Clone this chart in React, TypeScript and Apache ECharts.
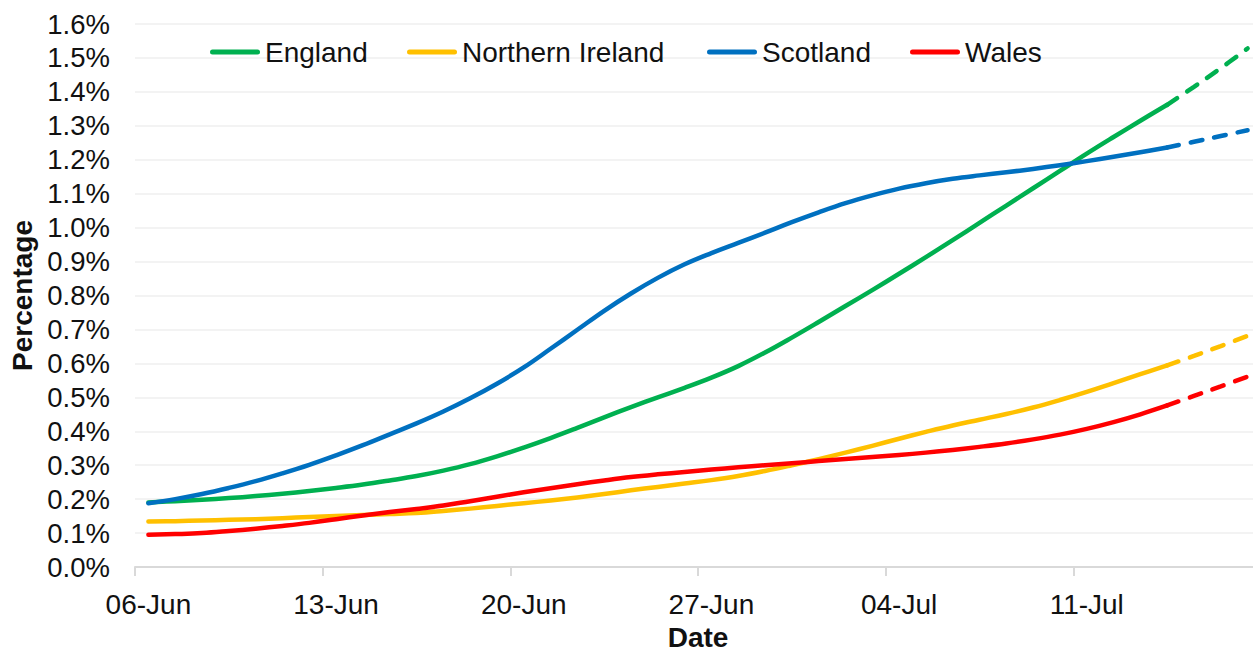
import { useEffect, useRef } from "react";
import * as echarts from "echarts";

const dates = [
  "06-Jun", "07-Jun", "08-Jun", "09-Jun", "10-Jun", "11-Jun", "12-Jun",
  "13-Jun", "14-Jun", "15-Jun", "16-Jun", "17-Jun", "18-Jun", "19-Jun",
  "20-Jun", "21-Jun", "22-Jun", "23-Jun", "24-Jun", "25-Jun", "26-Jun",
  "27-Jun", "28-Jun", "29-Jun", "30-Jun", "01-Jul", "02-Jul", "03-Jul",
  "04-Jul", "05-Jul", "06-Jul", "07-Jul", "08-Jul", "09-Jul", "10-Jul",
  "11-Jul", "12-Jul", "13-Jul", "14-Jul", "15-Jul", "16-Jul", "17-Jul",
];

const england = [
  0.190, 0.194, 0.198, 0.203, 0.209, 0.216, 0.224, 0.233, 0.243, 0.255,
  0.268, 0.284, 0.303, 0.326, 0.352, 0.380, 0.410, 0.441, 0.471, 0.500,
  0.528, 0.558, 0.592, 0.632, 0.676, 0.722, 0.769, 0.816, 0.864, 0.913,
  0.963, 1.014, 1.065, 1.116, 1.167, 1.218, 1.267, 1.315, 1.362, 1.415,
  1.470, 1.528,
];

const northernIreland = [
  0.134, 0.135, 0.137, 0.139, 0.141, 0.144, 0.147, 0.150, 0.153, 0.156,
  0.159, 0.165, 0.172, 0.180, 0.188, 0.196, 0.205, 0.215, 0.226, 0.236,
  0.246, 0.256, 0.268, 0.283, 0.300, 0.318, 0.337, 0.357, 0.378, 0.398,
  0.417, 0.434, 0.451, 0.470, 0.492, 0.516, 0.542, 0.568, 0.594, 0.622,
  0.651, 0.681,
];

const scotland = [
  0.188, 0.200, 0.215, 0.233, 0.253, 0.276, 0.301, 0.329, 0.359, 0.391,
  0.423, 0.458, 0.497, 0.540, 0.588, 0.643, 0.699, 0.755, 0.806, 0.852,
  0.892, 0.925, 0.955, 0.985, 1.016, 1.045, 1.072, 1.095, 1.115, 1.131,
  1.144, 1.154, 1.163, 1.173, 1.184, 1.196, 1.209, 1.222, 1.236, 1.253,
  1.270, 1.287,
];

const wales = [
  0.095, 0.097, 0.100, 0.106, 0.113, 0.121, 0.130, 0.141, 0.152, 0.162,
  0.171, 0.181, 0.194, 0.207, 0.220, 0.232, 0.244, 0.255, 0.265, 0.273,
  0.280, 0.287, 0.294, 0.300, 0.306, 0.312, 0.318, 0.324, 0.330, 0.337,
  0.345, 0.354, 0.364, 0.376, 0.390, 0.407, 0.427, 0.450, 0.476, 0.504,
  0.532, 0.561,
];

// index of the first projected (dashed) day; solid lines end here
const projectionStart = 38;

const countries = [
  { name: "England", values: england, color: "#00B050" },
  { name: "Northern Ireland", values: northernIreland, color: "#FFC000" },
  { name: "Scotland", values: scotland, color: "#0070C0" },
  { name: "Wales", values: wales, color: "#FF0000" },
];

// left edge of each legend entry's line icon
const legendLefts = [210, 407, 707, 910];

const FONT = "'Liberation Sans', Arial, sans-serif";
const LEGEND_ICON =
  "path://M2.5,0 L47.5,0 A2.5,2.5 0 0 1 47.5,5 L2.5,5 A2.5,2.5 0 0 1 2.5,0 Z";

export default function App() {
  const ref = useRef<HTMLDivElement>(null);

  useEffect(() => {
    if (!ref.current) return;
    const chart = echarts.init(ref.current, undefined, { renderer: "svg" });

    const series: any[] = [];
    countries.forEach((c) => {
      series.push({
        name: c.name,
        type: "line",
        data: c.values.map((v, i) => (i <= projectionStart ? v : null)),
        smooth: 0.4,
        symbol: "none",
        lineStyle: { color: c.color, width: 4.5, cap: "round", join: "round" },
        itemStyle: { color: c.color },
        z: 3,
      });
    });
    countries.forEach((c) => {
      series.push({
        name: c.name,
        type: "line",
        data: c.values.map((v, i) => (i >= projectionStart ? v : null)),
        smooth: 0.4,
        symbol: "none",
        lineStyle: { color: c.color, width: 4.5, type: [12, 12], cap: "round" },
        itemStyle: { color: c.color },
        z: 2,
      });
    });

    const legends = countries.map((c, k) => ({
      data: [{ name: c.name, icon: LEGEND_ICON }],
      left: legendLefts[k],
      top: 38,
      padding: 0,
      itemWidth: 50,
      itemHeight: 5,
      textStyle: { fontFamily: FONT, fontSize: 28, color: "#111" },
    }));

    chart.setOption({
      animation: false,
      backgroundColor: "#ffffff",
      textStyle: { fontFamily: FONT },
      legend: legends,
      grid: {
        left: 135,
        top: 24,
        right: -8,
        bottom: 85,
        containLabel: false,
        outerBoundsMode: "none",
      },
      xAxis: {
        type: "category",
        data: dates,
        boundaryGap: true,
        name: "Date",
        nameLocation: "middle",
        nameGap: 56,
        nameTextStyle: { fontFamily: FONT, fontSize: 28, fontWeight: "bold", color: "#111" },
        axisLine: { lineStyle: { color: "#d9d9d9", width: 2 } },
        axisTick: { show: true, interval: 6, length: 9, lineStyle: { color: "#d9d9d9", width: 2 } },
        axisLabel: { interval: 6, margin: 23, fontFamily: FONT, fontSize: 28, color: "#111" },
        splitLine: { show: false },
      },
      yAxis: {
        type: "value",
        min: 0,
        max: 1.6,
        interval: 0.1,
        name: "Percentage",
        nameLocation: "middle",
        nameGap: 92,
        nameTextStyle: { fontFamily: FONT, fontSize: 28, fontWeight: "bold", color: "#111" },
        axisLine: { show: false },
        axisTick: { show: false },
        axisLabel: {
          margin: 25,
          fontFamily: FONT,
          fontSize: 27.5,
          color: "#111",
          formatter: (v: number) => v.toFixed(1) + "%",
        },
        splitLine: { lineStyle: { color: "#efefef", width: 1.5 } },
      },
      series,
    });

    return () => chart.dispose();
  }, []);

  return (
    <div
      ref={ref}
      style={{ position: "fixed", left: 0, top: 0, width: 1253, height: 652 }}
    />
  );
}
